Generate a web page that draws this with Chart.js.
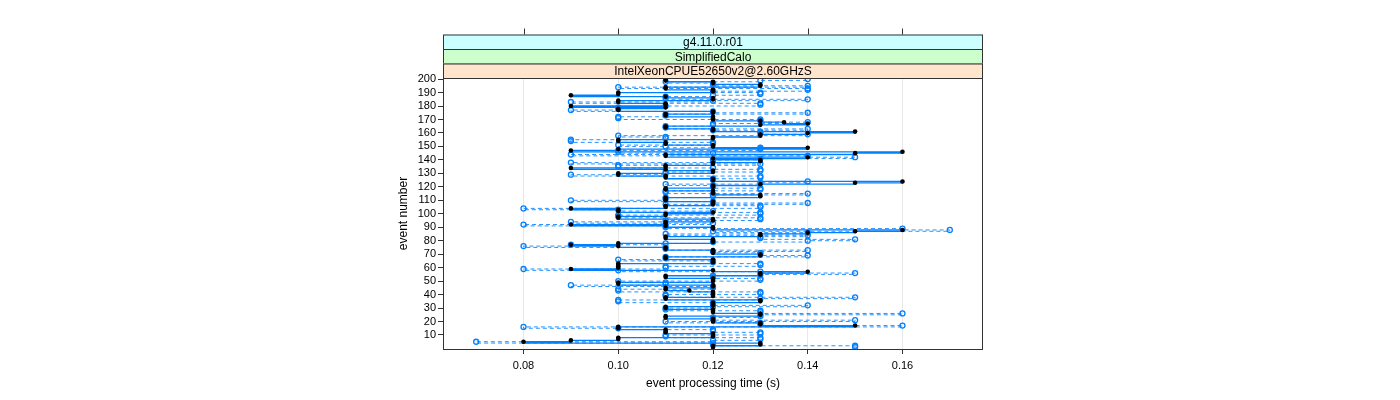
<!DOCTYPE html>
<html>
<head>
<meta charset="utf-8">
<script src="https://cdn.jsdelivr.net/npm/chart.js@4/dist/chart.umd.min.js"></script>
<style>
  html, body { margin: 0; padding: 0; background: #ffffff; }
  #wrap { width: 1400px; height: 400px; position: relative; }
</style>
</head>
<body>
<div id="wrap"><canvas id="chart"></canvas></div>
<script>
// strip labels (lattice-style panel headers)
const stripLabels = ['g4.11.0.r01', 'SimplifiedCalo', 'IntelXeonCPUE52650v2@2.60GHzS'];
const stripColors = ['#ccffff', '#ccffcc', '#ffe5cc'];

const xTicks = [0.08, 0.10, 0.12, 0.14, 0.16];
const yTicks = [10, 20, 30, 40, 50, 60, 70, 80, 90, 100, 110, 120, 130, 140, 150, 160, 170, 180, 190, 200];

// event processing time (s) for events 1..200, run drawn with solid line + black dots
const timesRunA = [
  0.12, 0.12, 0.13, 0.13, 0.08, 0.09, 0.10, 0.10, 0.12, 0.12,
  0.12, 0.11, 0.11, 0.11, 0.10, 0.10, 0.15, 0.13, 0.13, 0.12,
  0.12, 0.12, 0.11, 0.11, 0.13, 0.13, 0.12, 0.12, 0.12, 0.11,
  0.11, 0.12, 0.12, 0.12, 0.13, 0.13, 0.11, 0.11, 0.12, 0.12,
  0.12, 0.12, 0.115, 0.11, 0.11, 0.12, 0.12, 0.10, 0.10, 0.12,
  0.12, 0.12, 0.11, 0.11, 0.13, 0.13, 0.14, 0.12, 0.09, 0.10,
  0.10, 0.10, 0.10, 0.12, 0.12, 0.12, 0.11, 0.11, 0.13, 0.13,
  0.12, 0.12, 0.12, 0.11, 0.11, 0.10, 0.09, 0.10, 0.12, 0.12,
  0.12, 0.11, 0.11, 0.13, 0.13, 0.14, 0.15, 0.16, 0.12, 0.12,
  0.11, 0.09, 0.11, 0.11, 0.12, 0.12, 0.10, 0.10, 0.11, 0.11,
  0.12, 0.10, 0.10, 0.09, 0.11, 0.11, 0.12, 0.12, 0.12, 0.11,
  0.11, 0.11, 0.13, 0.13, 0.12, 0.12, 0.12, 0.11, 0.11, 0.12,
  0.12, 0.13, 0.15, 0.16, 0.12, 0.12, 0.11, 0.11, 0.10, 0.10,
  0.12, 0.12, 0.11, 0.09, 0.11, 0.11, 0.12, 0.12, 0.13, 0.13,
  0.12, 0.14, 0.11, 0.11, 0.15, 0.16, 0.09, 0.10, 0.14, 0.12,
  0.12, 0.11, 0.11, 0.10, 0.10, 0.12, 0.12, 0.13, 0.13, 0.14,
  0.15, 0.12, 0.12, 0.11, 0.11, 0.13, 0.14, 0.135, 0.13, 0.12,
  0.12, 0.12, 0.11, 0.11, 0.12, 0.12, 0.10, 0.10, 0.11, 0.09,
  0.11, 0.11, 0.10, 0.10, 0.12, 0.12, 0.11, 0.09, 0.10, 0.10,
  0.12, 0.12, 0.11, 0.11, 0.13, 0.13, 0.12, 0.12, 0.11, 0.11
];

// second run, dashed line + open blue circles
const timesRunB = [
  0.15, 0.15, 0.12, 0.12, 0.07, 0.12, 0.13, 0.13, 0.11, 0.11,
  0.13, 0.13, 0.12, 0.12, 0.10, 0.08, 0.16, 0.13, 0.13, 0.11,
  0.15, 0.12, 0.12, 0.13, 0.13, 0.16, 0.13, 0.13, 0.11, 0.11,
  0.12, 0.14, 0.12, 0.12, 0.10, 0.10, 0.13, 0.15, 0.11, 0.11,
  0.13, 0.13, 0.10, 0.10, 0.12, 0.12, 0.09, 0.11, 0.11, 0.10,
  0.13, 0.13, 0.12, 0.12, 0.13, 0.15, 0.13, 0.10, 0.08, 0.11,
  0.11, 0.13, 0.13, 0.12, 0.12, 0.10, 0.11, 0.11, 0.14, 0.13,
  0.13, 0.12, 0.14, 0.11, 0.11, 0.08, 0.09, 0.11, 0.12, 0.14,
  0.15, 0.13, 0.13, 0.14, 0.11, 0.14, 0.12, 0.17, 0.16, 0.11,
  0.11, 0.08, 0.12, 0.09, 0.11, 0.13, 0.13, 0.10, 0.10, 0.13,
  0.13, 0.12, 0.10, 0.08, 0.13, 0.13, 0.11, 0.14, 0.12, 0.09,
  0.11, 0.11, 0.12, 0.12, 0.14, 0.11, 0.11, 0.13, 0.13, 0.12,
  0.12, 0.11, 0.13, 0.14, 0.12, 0.12, 0.13, 0.13, 0.09, 0.11,
  0.11, 0.13, 0.13, 0.12, 0.10, 0.10, 0.13, 0.09, 0.12, 0.12,
  0.13, 0.15, 0.14, 0.09, 0.12, 0.10, 0.10, 0.13, 0.13, 0.11,
  0.10, 0.12, 0.12, 0.09, 0.09, 0.11, 0.11, 0.10, 0.14, 0.13,
  0.13, 0.12, 0.14, 0.11, 0.11, 0.12, 0.12, 0.14, 0.13, 0.13,
  0.10, 0.10, 0.11, 0.11, 0.14, 0.12, 0.09, 0.10, 0.10, 0.11,
  0.13, 0.13, 0.09, 0.12, 0.14, 0.11, 0.11, 0.12, 0.13, 0.13,
  0.12, 0.14, 0.14, 0.10, 0.14, 0.12, 0.12, 0.11, 0.13, 0.14
];

function toPoints(times) {
  return times.map((t, i) => ({ x: t, y: i + 1 }));
}

const FONT = 'Liberation Sans, Arial, Helvetica, sans-serif';

// panel frame, strips and top tick marks
const latticePanel = {
  id: 'latticePanel',
  afterDraw(chart) {
    const { ctx, chartArea } = chart;
    const xScale = chart.scales.x;
    const stripH = 14.5;
    const nStrips = stripLabels.length;
    const stripTop = chartArea.top - stripH * nStrips;

    ctx.save();
    for (let i = 0; i < nStrips; i++) {
      const y = stripTop + i * stripH;
      ctx.fillStyle = stripColors[i];
      ctx.fillRect(chartArea.left, y, chartArea.right - chartArea.left, stripH);
      ctx.strokeStyle = '#333333';
      ctx.lineWidth = 1;
      ctx.strokeRect(chartArea.left + 0.5, y + 0.5, chartArea.right - chartArea.left - 1, stripH);
      ctx.fillStyle = '#000000';
      ctx.font = '12px ' + FONT;
      ctx.textAlign = 'center';
      ctx.textBaseline = 'middle';
      ctx.fillText(stripLabels[i], (chartArea.left + chartArea.right) / 2, y + stripH / 2 + 1);
    }

    // top tick marks above strips
    ctx.strokeStyle = '#333333';
    ctx.beginPath();
    xTicks.forEach(v => {
      const px = Math.round(xScale.getPixelForValue(v)) + 0.5;
      ctx.moveTo(px, stripTop);
      ctx.lineTo(px, stripTop - 6);
    });
    ctx.stroke();

    // panel box
    ctx.strokeRect(chartArea.left + 0.5, chartArea.top + 0.5,
      chartArea.right - chartArea.left - 1, chartArea.bottom - chartArea.top);
    ctx.restore();
  }
};

new Chart(document.getElementById('chart'), {
  type: 'scatter',
  data: {
    datasets: [
      {
        label: 'run A',
        data: toPoints(timesRunA),
        showLine: true,
        stepped: true,
        borderColor: '#0080ff',
        borderWidth: 1.3,
        pointRadius: 2.3,
        pointBackgroundColor: '#000000',
        pointBorderColor: '#000000',
        pointBorderWidth: 0,
        order: 1
      },
      {
        label: 'run B',
        data: toPoints(timesRunB),
        showLine: true,
        stepped: true,
        borderColor: 'rgba(0, 128, 255, 0.85)',
        borderWidth: 1,
        borderDash: [4, 3],
        pointRadius: 2.5,
        pointBackgroundColor: 'rgba(255, 255, 255, 0)',
        pointBorderColor: '#0080ff',
        pointBorderWidth: 1.3,
        order: 2
      }
    ]
  },
  options: {
    responsive: true,
    maintainAspectRatio: false,
    animation: false,
    layout: { padding: { left: 390, right: 417, top: 78, bottom: 0 } },
    plugins: {
      legend: { display: false },
      tooltip: { enabled: false }
    },
    scales: {
      x: {
        type: 'linear',
        min: 0.063,
        max: 0.177,
        afterBuildTicks: s => { s.ticks = xTicks.map(v => ({ value: v })); },
        afterFit: s => { s.height = 51; },
        grid: {
          color: '#e8e8e8',
          tickColor: '#333333',
          tickLength: 5,
          drawOnChartArea: true
        },
        border: { display: false },
        ticks: {
          color: '#000000',
          font: { family: FONT, size: 11 },
          padding: 5,
          maxRotation: 0,
          callback: v => v.toFixed(2)
        },
        title: {
          display: true,
          text: 'event processing time (s)',
          color: '#000000',
          font: { family: FONT, size: 12 },
          padding: { top: 0, bottom: 9 }
        }
      },
      y: {
        type: 'linear',
        min: -0.4,
        max: 200.8,
        afterBuildTicks: s => { s.ticks = yTicks.map(v => ({ value: v })); },
        afterFit: s => { s.width = 53; },
        grid: {
          drawOnChartArea: false,
          tickColor: '#333333',
          tickLength: 5
        },
        border: { display: false },
        ticks: {
          color: '#000000',
          font: { family: FONT, size: 11 },
          padding: 2,
          autoSkip: false
        },
        title: {
          display: true,
          text: 'event number',
          color: '#000000',
          font: { family: FONT, size: 12 },
          padding: { top: 6, bottom: 0 }
        }
      }
    }
  },
  plugins: [latticePanel]
});
</script>
</body>
</html>
